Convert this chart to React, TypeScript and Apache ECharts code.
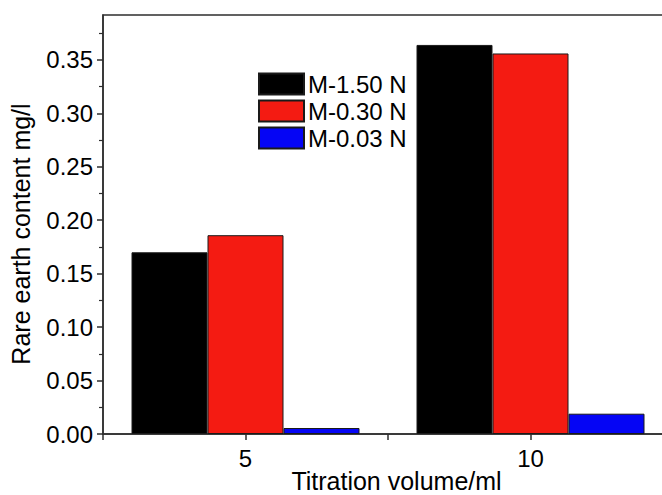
import React, { useEffect, useRef } from "react";
import * as echarts from "echarts";

const categories = ["5", "10"];
const seriesNames = ["M-1.50 N", "M-0.30 N", "M-0.03 N"];
const valuesHigh = [0.170, 0.364];
const valuesMid = [0.186, 0.356];
const valuesLow = [0.0056, 0.019];
const yTickValues = [0, 0.05, 0.1, 0.15, 0.2, 0.25, 0.3, 0.35];
const yMinorTickValues = [0.025, 0.075, 0.125, 0.175, 0.225, 0.275, 0.325, 0.375];
const colors = ["#000000", "#f41b12", "#0505f5"];

const FONT = "'Liberation Sans', Arial, Helvetica, sans-serif";

export default function App() {
  const ref = useRef<HTMLDivElement>(null);
  useEffect(() => {
    if (!ref.current) return;
    const chart = echarts.init(ref.current, null, { renderer: "svg" });
    const yMax = 0.392;
    const axisColor = "#2e2e2e";
    chart.setOption({
      animation: false,
      backgroundColor: "#ffffff",
      textStyle: { fontFamily: FONT, color: "#000" },
      grid: {
        left: 103,
        right: -11,
        top: 15,
        bottom: 61,
        outerBoundsMode: "none",
        containLabel: false,
        show: true,
        borderColor: axisColor,
        borderWidth: 1.5,
        backgroundColor: "transparent",
      },
      legend: {
        orient: "vertical",
        left: 258,
        top: 72,
        padding: 0,
        itemWidth: 45,
        itemHeight: 21,
        itemGap: 3,
        icon: "rect",
        data: seriesNames,
        textStyle: { fontSize: 24, fontFamily: FONT, color: "#000", lineHeight: 21, padding: [0, 0, 0, -1] },
        selectedMode: false,
      },
      xAxis: [
        {
          type: "category",
          data: categories,
          boundaryGap: true,
          axisLine: { show: true, lineStyle: { color: axisColor, width: 1.5 } },
          axisTick: { show: false },
          axisLabel: { fontSize: 24, fontFamily: FONT, color: "#000", margin: 12 },
          name: "Titration volume/ml",
          nameLocation: "middle",
          nameGap: 34,
          nameMoveOverlap: false,
          nameTextStyle: { fontSize: 25, fontFamily: FONT, color: "#000", padding: [0, 0, 0, 17] },
        },
        {
          type: "value",
          min: 2.5,
          max: 12.5,
          interval: 2.5,
          position: "bottom",
          axisLine: { show: false },
          axisTick: { show: true, inside: false, length: 6, lineStyle: { color: axisColor, width: 1.5 } },
          axisLabel: { show: false },
          splitLine: { show: false },
        },
      ],
      yAxis: [
        {
          type: "value",
          min: 0,
          max: yMax,
          axisLine: { show: true, lineStyle: { color: axisColor, width: 1.5 } },
          axisTick: { show: true, length: 6, customValues: yTickValues, lineStyle: { color: axisColor, width: 1.5 } },
          axisLabel: {
            customValues: yTickValues,
            formatter: (v: number) => v.toFixed(2),
            fontSize: 24,
            fontFamily: FONT,
            color: "#000",
            margin: 10,
          },
          splitLine: { show: false },
          name: "Rare earth content mg/l",
          nameLocation: "middle",
          nameGap: 70,
          nameMoveOverlap: false,
          nameTextStyle: { fontSize: 25, fontFamily: FONT, color: "#000", padding: [0, 19, 0, 0] },
        },
        {
          type: "value",
          min: 0,
          max: yMax,
          position: "left",
          axisLine: { show: false },
          axisTick: { show: true, length: 4, customValues: yMinorTickValues, lineStyle: { color: axisColor, width: 1.2 } },
          axisLabel: { show: false },
          splitLine: { show: false },
        },
      ],
      series: [valuesHigh, valuesMid, valuesLow].map((vals, i) => ({
        type: "bar",
        name: seriesNames[i],
        data: vals,
        xAxisIndex: 0,
        yAxisIndex: 0,
        barGap: "0%",
        barCategoryGap: "20%",
        itemStyle: { color: colors[i], borderColor: "#1a1a1a", borderWidth: 1 },
      })),
    });
    return () => chart.dispose();
  }, []);
  return (
    <div
      ref={ref}
      style={{ position: "fixed", left: 0, top: 0, width: 662, height: 495 }}
    />
  );
}
